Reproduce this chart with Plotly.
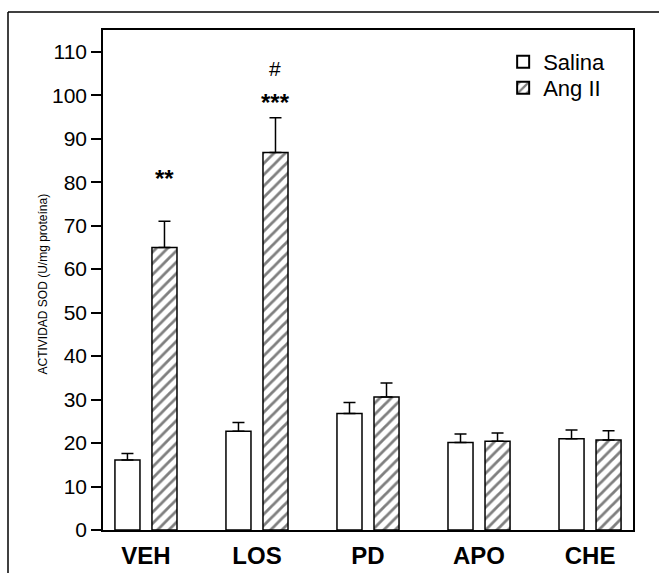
import plotly.graph_objects as go

categories = ["VEH", "LOS", "PD", "APO", "CHE"]
salina = [16.1, 22.7, 26.8, 20.1, 21.0]
salina_err = [1.5, 2.0, 2.5, 2.0, 2.0]
angii = [65.0, 86.8, 30.6, 20.4, 20.7]
angii_err = [6.0, 8.0, 3.2, 1.9, 2.1]
y_ticks = [0, 10, 20, 30, 40, 50, 60, 70, 80, 90, 100, 110]
sig_marks = [("<b>**</b>", 0, 80.8, 24), ("<b>***</b>", 1, 98.3, 24), ("#", 1, 106.2, 21)]

FONT = "Liberation Sans, Arial, sans-serif"

fig = go.Figure()
fig.add_trace(go.Bar(
    name="Salina", x=categories, y=salina, legend="legend",
    marker=dict(color="white", line=dict(color="black", width=1.5)),
    error_y=dict(type="data", array=salina_err, arrayminus=[0]*5, symmetric=False,
                 color="black", thickness=1.5, width=6),
))
fig.add_trace(go.Bar(
    name="Ang II", x=categories, y=angii, legend="legend2",
    marker=dict(color="white", line=dict(color="black", width=1.5),
                pattern=dict(shape="/", fgcolor="black", bgcolor="white", size=8, solidity=0.35)),
    error_y=dict(type="data", array=angii_err, arrayminus=[0]*5, symmetric=False,
                 color="black", thickness=1.5, width=6),
))

for txt, idx, yv, fs in sig_marks:
    fig.add_annotation(x=idx + 1/6, y=yv, xref="x", yref="y", text=txt, showarrow=False,
                       font=dict(size=fs, color="black", family=FONT))

fig.add_annotation(x=(33-103)/530, y=0.491, xref="paper", yref="paper",
                   text="ACTIVIDAD SOD (U/mg proteína)", textangle=-90, showarrow=False,
                   font=dict(size=12, color="black", family=FONT))

# outer frame (top and left lines)
fig.add_shape(type="line", xref="paper", yref="paper", x0=(8-103)/530, x1=(670-103)/530,
              y0=(530-12)/500, y1=(530-12)/500, line=dict(color="black", width=1.5))
fig.add_shape(type="line", xref="paper", yref="paper", x0=(8-103)/530, x1=(8-103)/530,
              y0=(530-12)/500, y1=(530-580)/500, line=dict(color="black", width=1.5))

leg_common = dict(xanchor="left", yanchor="middle", bgcolor="rgba(0,0,0,0)",
                  font=dict(size=22, family=FONT, color="black"), itemsizing="constant")
fig.update_layout(
    width=659, height=573,
    margin=dict(l=103, r=26, t=30, b=43, autoexpand=False),
    paper_bgcolor="white", plot_bgcolor="white",
    barmode="group", bargap=0.333, bargroupgap=0.324,
    font=dict(family=FONT, color="black"),
    showlegend=True,
    legend=dict(x=0.755, y=(530-62)/500, **leg_common),
    legend2=dict(x=0.755, y=(530-88)/500, **leg_common),
)
fig.update_xaxes(showline=True, linecolor="black", linewidth=1.5, mirror=True, automargin=False,
                 ticks="", range=[-0.387, 4.387], showgrid=False, ticklabelstandoff=3,
                 tickfont=dict(size=24, family=FONT, weight="bold"))
fig.update_yaxes(showline=True, linecolor="black", linewidth=1.5, mirror=True, automargin=False,
                 ticks="outside", ticklen=10, tickwidth=1.5, tickcolor="black",
                 range=[0, 115], tickvals=y_ticks, showgrid=False, zeroline=False,
                 tickfont=dict(size=21, family=FONT))

fig.write_html("out.html", config={"displayModeBar": False},
               post_script="document.body.style.margin='0';")
